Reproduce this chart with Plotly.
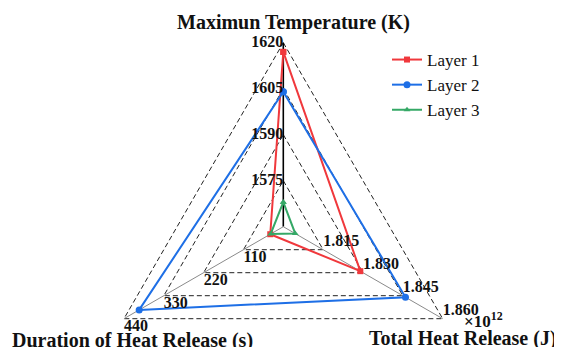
import numpy as np
import plotly.graph_objects as go

# ---------------- data ----------------
axis_titles = ["Maximun Temperature (K)", "Total Heat Release (J)", "Duration of Heat Release (s)"]
temp_ticks = [1575, 1590, 1605, 1620]
thr_ticks = [1.815, 1.830, 1.845, 1.860]
dur_ticks = [110, 220, 330, 440]
temp_tick_labels = ["1575", "1590", "1605", "1620"]
thr_tick_labels = ["1.815", "1.830", "1.845", "1.860"]
dur_tick_labels = ["110", "220", "330", "440"]
axis_min = [1560, 1.800, 0]
axis_max = [1620, 1.860, 440]

layer_names = ["Layer 1", "Layer 2", "Layer 3"]
temp_vals = [1617, 1604, 1568]
thr_vals = [1.829, 1.846, 1.8045]
dur_vals = [36, 398, 35]

# ---------------- styling ----------------
angles = np.deg2rad([90, -30, 210])
colors = ["#F0383C", "#1E6FE6", "#35A866"]
symbols = ["square", "circle", "triangle-up"]
msizes = [6, 7, 6]
SERIF = "Liberation Serif, Times New Roman, serif"

# page has an 8px body margin: figure is offset by (8, 8) inside the window
OFF = 8
W, H = 562 - OFF, 347 - OFF


def px(xr):
    return (xr - OFF) / W


def py(yr):
    return 1 - (yr - OFF) / H


def to_xy(axis_idx, value):
    r = (np.asarray(value, dtype=float) - axis_min[axis_idx]) / (axis_max[axis_idx] - axis_min[axis_idx])
    return r * np.cos(angles[axis_idx]), r * np.sin(angles[axis_idx])


fig = go.Figure()

# grid triangles (dashed)
for k in range(len(temp_ticks)):
    pts = [to_xy(0, temp_ticks[k]), to_xy(1, thr_ticks[k]), to_xy(2, dur_ticks[k])]
    xs = [p[0] for p in pts] + [pts[0][0]]
    ys = [p[1] for p in pts] + [pts[0][1]]
    fig.add_trace(go.Scatter(x=xs, y=ys, mode="lines", showlegend=False, hoverinfo="skip",
                             line=dict(color="#222222", width=1, dash="5px,3px")))

# spokes
spoke_colors = ["#000000", "#8a8a8a", "#8a8a8a"]
spoke_widths = [1.6, 1, 1]
for i in range(3):
    x0, y0 = to_xy(i, axis_min[i])
    x1, y1 = to_xy(i, axis_max[i])
    fig.add_trace(go.Scatter(x=[x0, x1], y=[y0, y1], mode="lines", showlegend=False, hoverinfo="skip",
                             line=dict(color=spoke_colors[i], width=spoke_widths[i])))

# data layers
for j in range(len(layer_names)):
    pts = [to_xy(0, temp_vals[j]), to_xy(1, thr_vals[j]), to_xy(2, dur_vals[j])]
    xs = [p[0] for p in pts] + [pts[0][0]]
    ys = [p[1] for p in pts] + [pts[0][1]]
    fig.add_trace(go.Scatter(x=xs, y=ys, mode="lines+markers", name=layer_names[j],
                             line=dict(color=colors[j], width=2),
                             marker=dict(symbol=symbols[j], size=msizes[j], color=colors[j])))

# tick labels
tick_font = dict(family=SERIF, size=16, color="#111111", weight="bold")
for i, (ticks, labels, pos) in enumerate([
        (temp_ticks, temp_tick_labels, "middle left"),
        (thr_ticks, thr_tick_labels, "top right"),
        (dur_ticks, dur_tick_labels, "bottom right")]):
    xs, ys = to_xy(i, ticks)
    fig.add_trace(go.Scatter(x=xs, y=ys, mode="text", text=labels, textposition=pos,
                             textfont=tick_font, showlegend=False, hoverinfo="skip"))

title_font = dict(family=SERIF, size=20, color="#111111", weight="bold")
annotations = [
    dict(text=axis_titles[0], x=px(293), y=py(23), xref="paper", yref="paper",
         xanchor="center", yanchor="middle", showarrow=False, font=title_font),
    dict(text=axis_titles[1], x=px(463), y=py(338), xref="paper", yref="paper",
         xanchor="center", yanchor="middle", showarrow=False, font=title_font),
    dict(text=axis_titles[2], x=px(133), y=py(340), xref="paper", yref="paper",
         xanchor="center", yanchor="middle", showarrow=False, font=title_font),
    dict(text="×10<sup>12</sup>", x=px(462), y=py(320), xref="paper", yref="paper",
         xanchor="left", yanchor="middle", showarrow=False,
         font=dict(family=SERIF, size=17, color="#111111", weight="bold")),
]

S = 184.0
cx, cy = 283.3 - OFF, 226.7 - OFF
fig.update_layout(
    width=W, height=H,
    margin=dict(l=0, r=0, t=0, b=0),
    paper_bgcolor="white", plot_bgcolor="white",
    xaxis=dict(range=[-cx / S, (W - cx) / S], visible=False, fixedrange=True),
    yaxis=dict(range=[-(H - cy) / S, cy / S], visible=False, fixedrange=True),
    legend=dict(x=px(387), y=py(42), xanchor="left", yanchor="top",
                font=dict(family=SERIF, size=17, color="#111111"),
                bgcolor="rgba(0,0,0,0)", tracegroupgap=0, itemwidth=30),
    annotations=annotations,
    showlegend=True,
)

fig.write_html("out.html")
